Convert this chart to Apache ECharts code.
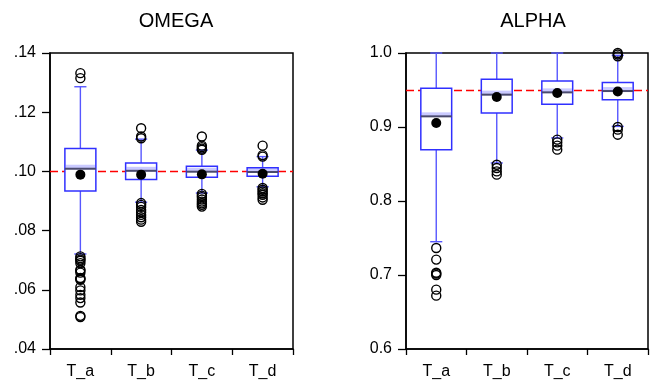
<!DOCTYPE html>
<html>
<head>
<meta charset="utf-8">
<script src="https://cdn.jsdelivr.net/npm/echarts@6/dist/echarts.min.js"></script>
<style>
html,body{margin:0;padding:0;background:#fff;}
#chart{width:654px;height:382px;}
</style>
</head>
<body>
<div id="chart"></div>
<script>
// ---- data ----
const categories = ['T_a', 'T_b', 'T_c', 'T_d'];

const omegaLowerWhisker = [0.0721, 0.0896, 0.0927, 0.0948];
const omegaQ1           = [0.0934, 0.0973, 0.0980, 0.0984];
const omegaMedian       = [0.1009, 0.1002, 0.0999, 0.0998];
const omegaQ3           = [0.1077, 0.1028, 0.1017, 0.1012];
const omegaUpperWhisker = [0.1286, 0.1109, 0.1072, 0.1050];
const omegaMean         = [0.0989, 0.0989, 0.0990, 0.0992];
const omegaOutliers = [
  [0.1332, 0.1315, 0.0713, 0.0707, 0.0702, 0.0698, 0.0690, 0.0668, 0.0665, 0.0658, 0.0640, 0.0637, 0.0634, 0.0609, 0.0598, 0.0583, 0.0572, 0.0557, 0.0512, 0.0508],
  [0.1146, 0.1118, 0.1112, 0.0893, 0.0887, 0.0880, 0.0870, 0.0862, 0.0853, 0.0845, 0.0837, 0.0830],
  [0.1118, 0.1087, 0.1082, 0.1077, 0.1073, 0.0924, 0.0918, 0.0913, 0.0905, 0.0898, 0.0892, 0.0887, 0.0881],
  [0.1087, 0.1055, 0.1050, 0.0944, 0.0938, 0.0932, 0.0926, 0.0921, 0.0912, 0.0904]
];
const omegaReference = 0.10;
const omegaTicks = { min: 0.04, max: 0.14, interval: 0.02 };

const alphaLowerWhisker = [0.745, 0.8514, 0.8852, 0.9008];
const alphaQ1           = [0.8694, 0.9189, 0.9306, 0.9369];
const alphaMedian       = [0.9144, 0.9437, 0.9468, 0.9486];
const alphaQ3           = [0.9522, 0.9644, 0.9622, 0.9603];
const alphaUpperWhisker = [1.0, 1.0, 1.0, 0.9968];
const alphaMean         = [0.9054, 0.9405, 0.9460, 0.9480];
const alphaOutliers = [
  [0.7365, 0.7208, 0.7030, 0.7018, 0.7000, 0.6802, 0.6721],
  [0.8490, 0.8446, 0.8400, 0.8356],
  [0.8829, 0.8792, 0.8748, 0.8694],
  [1.0, 0.9980, 0.9955, 0.9000, 0.8964, 0.8896]
];
const alphaReference = 0.95;
const alphaTicks = { min: 0.6, max: 1.0, interval: 0.1 };

// ---- chart ----
const FONT = 'Liberation Sans, Arial, sans-serif';

function boxData(lw, q1, med, q3, uw) {
  return categories.map((c, i) => [i, lw[i], q1[i], med[i], q3[i], uw[i]]);
}
function outlierData(outs) {
  const d = [];
  outs.forEach((arr, i) => arr.forEach(v => d.push([i, v])));
  return d;
}
function meanData(m) { return m.map((v, i) => [i, v]); }

function renderBox(params, api) {
  const idx = api.value(0);
  const band = api.size([1, 0])[0];
  const bw = band * 0.51, cw = band * 0.2;
  const x = api.coord([idx, api.value(3)])[0];
  const yLW = api.coord([idx, api.value(1)])[1];
  const yQ1 = api.coord([idx, api.value(2)])[1];
  const yMed = api.coord([idx, api.value(3)])[1];
  const yQ3 = api.coord([idx, api.value(4)])[1];
  const yUW = api.coord([idx, api.value(5)])[1];
  const wStyle = { stroke: '#5757ff', lineWidth: 1.4 };
  return {
    type: 'group',
    children: [
      { type: 'line', shape: { x1: x, y1: yUW, x2: x, y2: yQ3 }, style: wStyle },
      { type: 'line', shape: { x1: x, y1: yQ1, x2: x, y2: yLW }, style: wStyle },
      { type: 'line', shape: { x1: x - cw / 2, y1: yUW, x2: x + cw / 2, y2: yUW }, style: wStyle },
      { type: 'line', shape: { x1: x - cw / 2, y1: yLW, x2: x + cw / 2, y2: yLW }, style: wStyle },
      { type: 'rect', shape: { x: x - bw / 2, y: yQ3, width: bw, height: yQ1 - yQ3 },
        style: { fill: '#fff', stroke: '#3030ff', lineWidth: 1.5 } },
      { type: 'rect', shape: { x: x - bw / 2 + 0.8, y: yMed - 4, width: bw - 1.6, height: 4.5 },
        style: { fill: 'rgba(80,80,255,0.3)' } },
      { type: 'line', shape: { x1: x - bw / 2, y1: yMed, x2: x + bw / 2, y2: yMed },
        style: { stroke: '#4a4a6e', lineWidth: 2 } }
    ]
  };
}

function renderRef(params, api) {
  const cs = params.coordSys;
  const y = Math.round(api.coord([0, api.value(1)])[1]) + 0.5;
  return {
    type: 'line',
    shape: { x1: cs.x, y1: y, x2: cs.x + cs.width, y2: y },
    style: { stroke: '#ff0000', lineWidth: 1.4, lineDash: [8, 4] }
  };
}

function panelSeries(axisIdx, lw, q1, med, q3, uw, mean, outs, ref) {
  return [
    {
      type: 'custom', xAxisIndex: axisIdx, yAxisIndex: axisIdx, z: 1,
      renderItem: renderRef, data: [[0, ref]], encode: { x: 0, y: 1 }
    },
    {
      type: 'custom', xAxisIndex: axisIdx, yAxisIndex: axisIdx, z: 3,
      renderItem: renderBox, data: boxData(lw, q1, med, q3, uw),
      encode: { x: 0, y: [1, 2, 3, 4, 5] }
    },
    {
      type: 'scatter', xAxisIndex: axisIdx, yAxisIndex: axisIdx, z: 4,
      symbol: 'circle', symbolSize: 9,
      itemStyle: { color: 'rgba(255,255,255,0)', borderColor: '#000', borderWidth: 1.4, opacity: 1 },
      data: outlierData(outs)
    },
    {
      type: 'scatter', xAxisIndex: axisIdx, yAxisIndex: axisIdx, z: 5,
      symbol: 'circle', symbolSize: 10,
      itemStyle: { color: '#000', opacity: 1 },
      data: meanData(mean)
    }
  ];
}

function xAxisCfg(gi) {
  return {
    type: 'category', gridIndex: gi, data: categories, boundaryGap: true,
    axisLine: { lineStyle: { color: '#000', width: 1.5 } },
    axisTick: { show: true, length: 6, lineStyle: { color: '#000', width: 1.3 } },
    axisLabel: { color: '#000', fontSize: 16, fontFamily: FONT, margin: 15 },
    splitLine: { show: false }
  };
}
function yAxisCfg(gi, t, dec, strip) {
  return {
    type: 'value', gridIndex: gi, min: t.min, max: t.max, interval: t.interval,
    axisLine: { show: true, lineStyle: { color: '#000', width: 1.5 } },
    axisTick: { show: true, length: 8, lineStyle: { color: '#000', width: 1.3 } },
    axisLabel: {
      color: '#000', fontSize: 16, fontFamily: FONT, margin: 14,
      formatter: v => { let s = v.toFixed(dec); return strip ? s.replace(/^0/, '') : s; }
    },
    splitLine: { show: false }
  };
}

const chart = echarts.init(document.getElementById('chart'), null, { renderer: 'canvas' });
chart.setOption({
  animation: false,
  backgroundColor: '#fff',
  title: [
    { text: 'OMEGA', left: 171, top: 6, textAlign: 'center',
      textStyle: { fontSize: 20, fontWeight: 'normal', color: '#000', fontFamily: FONT } },
    { text: 'ALPHA', left: 528, top: 6, textAlign: 'center',
      textStyle: { fontSize: 20, fontWeight: 'normal', color: '#000', fontFamily: FONT } }
  ],
  grid: [
    { left: 50, top: 53, width: 243, height: 296, show: true, borderColor: '#000', borderWidth: 1.5, backgroundColor: 'transparent' },
    { left: 406, top: 53, width: 242, height: 296, show: true, borderColor: '#000', borderWidth: 1.5, backgroundColor: 'transparent' }
  ],
  xAxis: [xAxisCfg(0), xAxisCfg(1)],
  yAxis: [yAxisCfg(0, omegaTicks, 2, true), yAxisCfg(1, alphaTicks, 1, false)],
  series: [
    ...panelSeries(0, omegaLowerWhisker, omegaQ1, omegaMedian, omegaQ3, omegaUpperWhisker, omegaMean, omegaOutliers, omegaReference),
    ...panelSeries(1, alphaLowerWhisker, alphaQ1, alphaMedian, alphaQ3, alphaUpperWhisker, alphaMean, alphaOutliers, alphaReference)
  ]
});
</script>
</body>
</html>
